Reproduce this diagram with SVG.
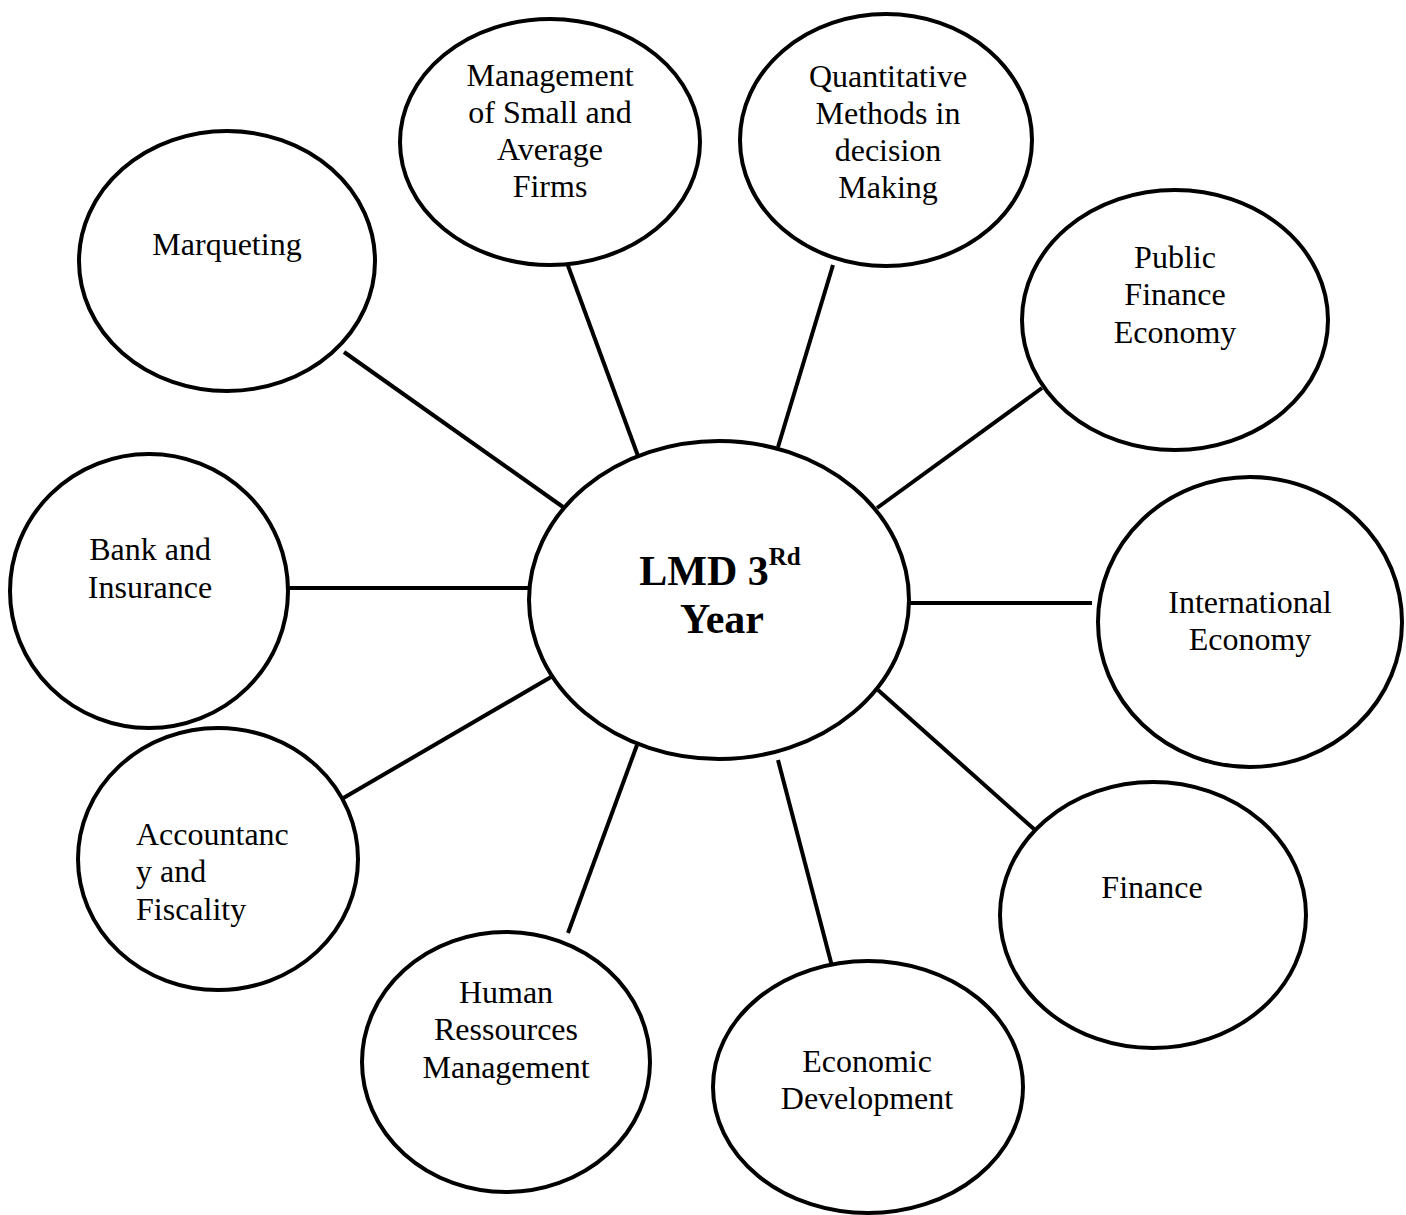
<svg xmlns="http://www.w3.org/2000/svg" width="1406" height="1215" viewBox="0 0 1406 1215">
<style>
.node ellipse{fill:#fff;stroke:#000;stroke-width:4}
.lbl{font-family:"Liberation Serif","Times New Roman",serif;font-size:32px;fill:#000;text-anchor:middle}
.left{text-anchor:start}
.main{font-family:"Liberation Serif","Times New Roman",serif;font-size:42px;font-weight:bold;fill:#000;text-anchor:middle}
#connectors line{stroke:#000;stroke-width:4}
</style>
<rect width="1406" height="1215" fill="#fff"/>
<g id="connectors">
<line x1="344" y1="352" x2="563" y2="507"/>
<line x1="567" y1="263" x2="638" y2="456"/>
<line x1="833" y1="265" x2="778" y2="447"/>
<line x1="1042" y1="388" x2="877" y2="508"/>
<line x1="288" y1="588" x2="530" y2="588"/>
<line x1="910" y1="603" x2="1092" y2="603"/>
<line x1="340" y1="800" x2="551" y2="677"/>
<line x1="878" y1="690" x2="1035" y2="830"/>
<line x1="568" y1="933" x2="637" y2="745"/>
<line x1="778" y1="760" x2="833" y2="970"/>
</g>
<g id="center" class="node">
<ellipse cx="719" cy="600" rx="190" ry="159"/>
<text class="main" x="720" y="585">LMD 3<tspan font-size="25" dy="-20">Rd</tspan></text>
<text class="main" x="722" y="633">Year</text>
</g>
<g id="marqueting" class="node">
<ellipse cx="227" cy="261" rx="148" ry="130"/>
<text class="lbl" x="227" y="255">Marqueting</text>
</g>
<g id="management" class="node">
<ellipse cx="550" cy="142" rx="150" ry="123"/>
<text class="lbl" x="550" y="86">Management</text>
<text class="lbl" x="550" y="123">of Small and</text>
<text class="lbl" x="550" y="160">Average</text>
<text class="lbl" x="550" y="197">Firms</text>
</g>
<g id="quantitative" class="node">
<ellipse cx="886" cy="140" rx="146" ry="126"/>
<text class="lbl" x="888" y="87">Quantitative</text>
<text class="lbl" x="888" y="124">Methods in</text>
<text class="lbl" x="888" y="161">decision</text>
<text class="lbl" x="888" y="198">Making</text>
</g>
<g id="public-finance" class="node">
<ellipse cx="1175" cy="320" rx="153" ry="130"/>
<text class="lbl" x="1175" y="268">Public</text>
<text class="lbl" x="1175" y="305">Finance</text>
<text class="lbl" x="1175" y="343">Economy</text>
</g>
<g id="bank" class="node">
<ellipse cx="149" cy="591" rx="139" ry="137"/>
<text class="lbl" x="150" y="560">Bank and</text>
<text class="lbl" x="150" y="598">Insurance</text>
</g>
<g id="international" class="node">
<ellipse cx="1250" cy="622" rx="152" ry="145"/>
<text class="lbl" x="1250" y="613">International</text>
<text class="lbl" x="1250" y="650">Economy</text>
</g>
<g id="accountancy" class="node">
<ellipse cx="218" cy="859" rx="140" ry="131"/>
<text class="lbl left" x="136" y="845">Accountanc</text>
<text class="lbl left" x="136" y="882">y and</text>
<text class="lbl left" x="136" y="920">Fiscality</text>
</g>
<g id="finance" class="node">
<ellipse cx="1153" cy="915" rx="153" ry="133"/>
<text class="lbl" x="1152" y="898">Finance</text>
</g>
<g id="human" class="node">
<ellipse cx="506" cy="1062" rx="144" ry="130"/>
<text class="lbl" x="506" y="1003">Human</text>
<text class="lbl" x="506" y="1040">Ressources</text>
<text class="lbl" x="506" y="1078">Management</text>
</g>
<g id="economic" class="node">
<ellipse cx="868" cy="1087" rx="155" ry="126"/>
<text class="lbl" x="867" y="1072">Economic</text>
<text class="lbl" x="867" y="1109">Development</text>
</g>
</svg>
